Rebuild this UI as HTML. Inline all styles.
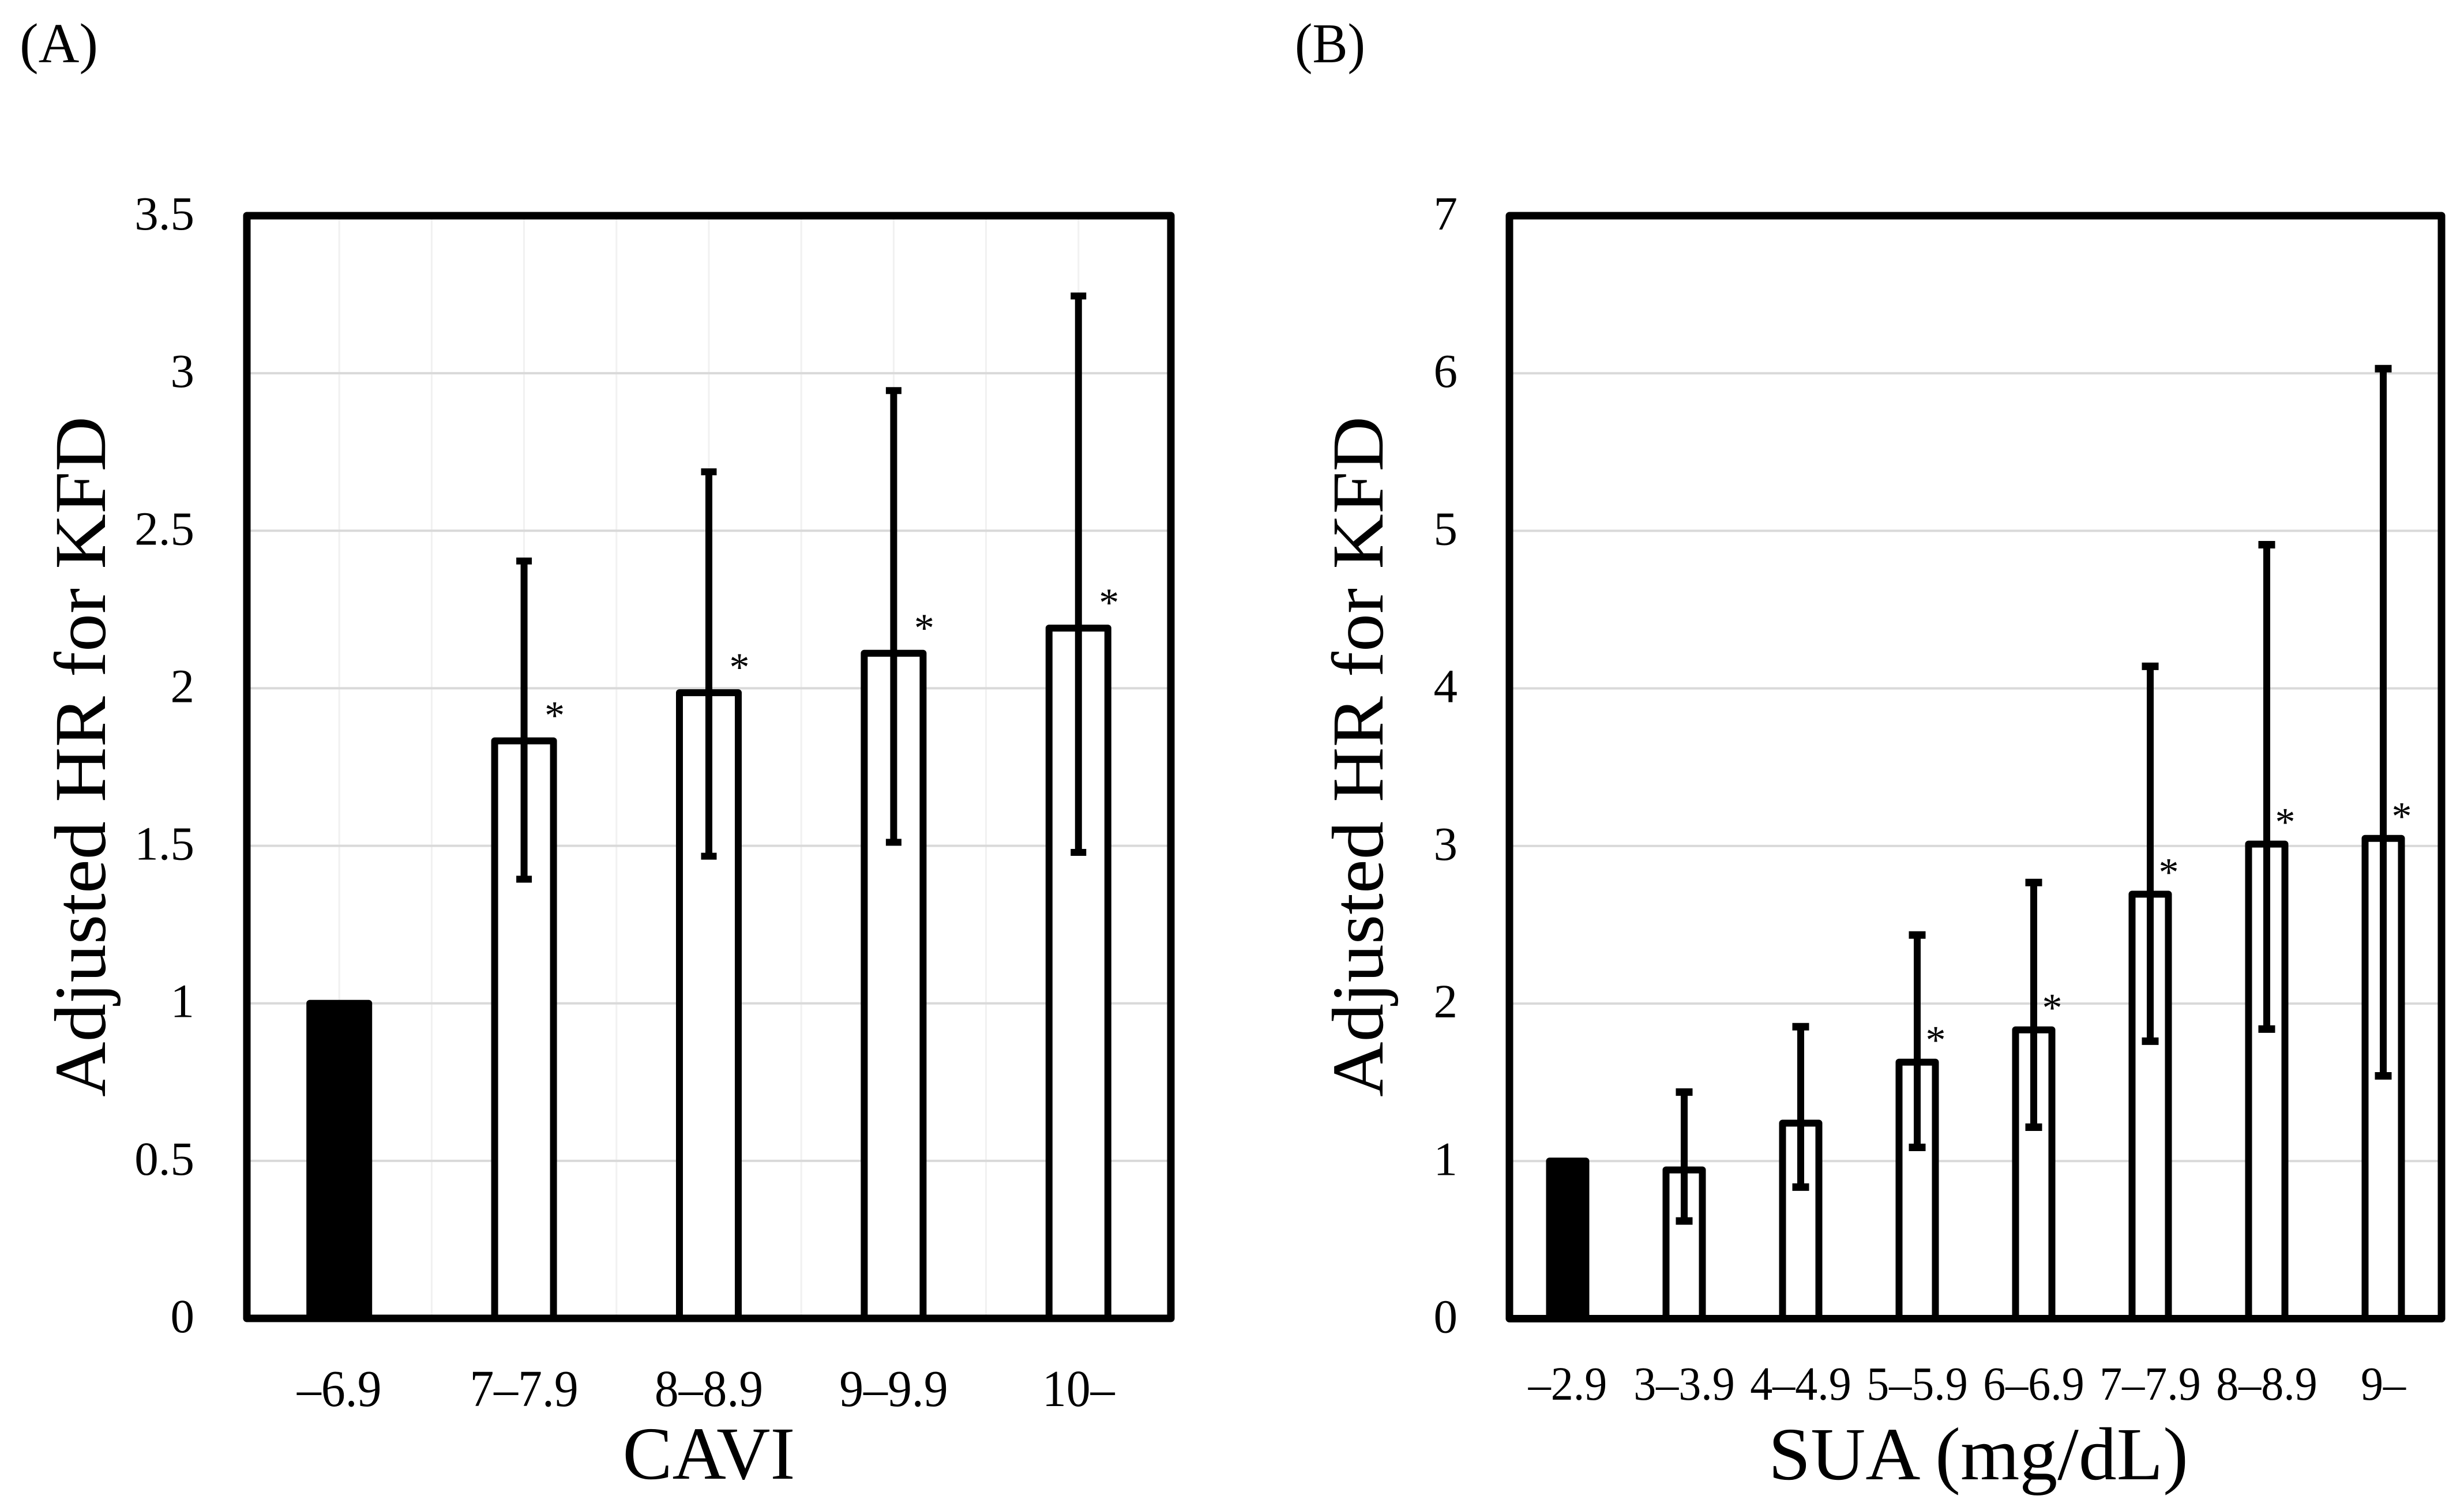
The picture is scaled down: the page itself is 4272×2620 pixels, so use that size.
<!DOCTYPE html>
<html lang="en">
<head>
<meta charset="utf-8">
<title>Adjusted HR for KFD by CAVI and SUA</title>
<style>
  html, body { margin: 0; padding: 0; background: #ffffff; }
  svg { display: block; }
  text { font-family: "Liberation Serif", serif; fill: #000000; }
</style>
</head>
<body>
<svg id="figure" xmlns="http://www.w3.org/2000/svg" width="4272" height="2620" viewBox="0 0 4272 2620">
  <rect x="0" y="0" width="4272" height="2620" fill="#ffffff"></rect>
  <text x="34" y="108" font-size="98">(A)</text>
  <text x="2245" y="108" font-size="98" textLength="122" lengthAdjust="spacingAndGlyphs">(B)</text>
  <text transform="translate(182,1312) rotate(-90)" text-anchor="middle" font-size="127" textLength="1180" lengthAdjust="spacingAndGlyphs">Adjusted HR for KFD</text>
  <text transform="translate(2397,1312) rotate(-90)" text-anchor="middle" font-size="127" textLength="1180" lengthAdjust="spacingAndGlyphs">Adjusted HR for KFD</text>
  <text x="1229" y="2564" text-anchor="middle" font-size="130" textLength="299" lengthAdjust="spacingAndGlyphs">CAVI</text>
  <text x="3430" y="2565" text-anchor="middle" font-size="130" textLength="728" lengthAdjust="spacingAndGlyphs">SUA (mg/dL)</text>
  <g id="panel-a"></g>
  <g id="panel-b"></g>
</svg>
<script>
// Panel A data
const categoriesA = ['–6.9', '7–7.9', '8–8.9', '9–9.9', '10–'];
const hazardA = [1, 1.833, 1.986, 2.111, 2.191];
const upperA = [null, 2.404, 2.687, 2.945, 3.245];
const lowerA = [null, 1.394, 1.467, 1.511, 1.479];
const significantA = [false, true, true, true, true];
const yTickLabelsA = ['0', '0.5', '1', '1.5', '2', '2.5', '3', '3.5'];

// Panel B data
const categoriesB = ['–2.9', '3–3.9', '4–4.9', '5–5.9', '6–6.9', '7–7.9', '8–8.9', '9–'];
const hazardB = [1, 0.944, 1.241, 1.628, 1.833, 2.694, 3.012, 3.048];
const upperB = [null, 1.438, 1.853, 2.435, 2.768, 4.14, 4.912, 6.029];
const lowerB = [null, 0.62, 0.835, 1.087, 1.215, 1.761, 1.838, 1.541];
const significantB = [false, false, false, true, true, true, true, true];
const yTickLabelsB = ['0', '1', '2', '3', '4', '5', '6', '7'];

const SVG_NS = 'http://www.w3.org/2000/svg';

function make(tag, attrs, parent) {
  const node = document.createElementNS(SVG_NS, tag);
  Object.keys(attrs).forEach(function (k) { node.setAttribute(k, attrs[k]); });
  parent.appendChild(node);
  return node;
}

function drawPanel(root, key, categories, hazard, upper, lower, significant, yTickLabels, layout) {
  const yMax = parseFloat(yTickLabels[yTickLabels.length - 1]);
  const xBand = (layout.right - layout.left) / categories.length;
  const xScale = function (i) { return layout.left + xBand * (i + 0.5); };
  const yScale = function (v) { return layout.bottom - (layout.bottom - layout.top) * v / yMax; };

  if (layout.verticalGrid) {
    for (let i = 1; i < categories.length * 2; i++) {
      const gx = layout.left + xBand * i / 2;
      const vLine = make('line', { x1: gx, x2: gx, y1: layout.top, y2: layout.bottom, stroke: '#f1f1f1', 'stroke-width': 3 }, root);
      
      
    }
  }

  yTickLabels.forEach(function (label) {
    const v = parseFloat(label);
    const gy = yScale(v);
    if (v > 0 && v < yMax) {
      const hLine = make('line', { x1: layout.left, x2: layout.right, y1: gy, y2: gy, stroke: '#d9d9d9', 'stroke-width': 4 }, root);
      
      
    }
    const tick = make('text', { x: layout.tickRight, y: gy + 24, 'text-anchor': 'end', 'font-size': 83 }, root);
    tick.textContent = label;
    
    
  });

  categories.forEach(function (label, i) {
    const cx = xScale(i);
    const topY = yScale(hazard[i]);
    const isReference = upper[i] === null;
    const bar = make('rect', {
      x: cx - layout.barWidth / 2,
      y: topY,
      width: layout.barWidth,
      height: layout.bottom - topY,
      fill: isReference ? '#000000' : '#ffffff',
      stroke: '#000000',
      'stroke-width': layout.barStroke,
      'stroke-linejoin': 'round'
    }, root);
    
    

    if (!isReference) {
      const hi = yScale(upper[i]);
      const lo = yScale(lower[i]);
      const stem = make('line', { x1: cx, x2: cx, y1: hi, y2: lo, stroke: '#000000', 'stroke-width': layout.stem }, root);
      
      
      const capTop = make('line', { x1: cx - layout.cap / 2, x2: cx + layout.cap / 2, y1: hi, y2: hi, stroke: '#000000', 'stroke-width': layout.capThick }, root);
      
      
      const capBottom = make('line', { x1: cx - layout.cap / 2, x2: cx + layout.cap / 2, y1: lo, y2: lo, stroke: '#000000', 'stroke-width': layout.capThick }, root);
      
      
    }

    if (significant[i]) {
      const star = make('text', { x: cx + layout.starDx, y: topY - layout.starDy + 33, 'text-anchor': 'middle', 'font-size': 70 }, root);
      star.textContent = '*';
      
      
    }

    const xLabel = make('text', {
      transform: 'translate(' + cx + ',' + layout.xLabelY + ') scale(' + layout.xLabelSqueeze + ',1)',
      'text-anchor': 'middle',
      'font-size': layout.xLabelSize
    }, root);
    xLabel.textContent = label;
    
    
  });

  const frame = make('rect', {
    x: layout.left,
    y: layout.top,
    width: layout.right - layout.left,
    height: layout.bottom - layout.top,
    fill: 'none',
    stroke: '#000000',
    'stroke-width': 13,
    'stroke-linejoin': 'round'
  }, root);
  
  
}

drawPanel(document.getElementById('panel-a'), 'a', categoriesA, hazardA, upperA, lowerA, significantA, yTickLabelsA, {
  left: 428, right: 2030, top: 374, bottom: 2286, tickRight: 337, verticalGrid: true,
  barWidth: 102, barStroke: 12, stem: 12, cap: 27, capThick: 12, starDx: 53, starDy: 54,
  xLabelY: 2438, xLabelSize: 90, xLabelSqueeze: 0.93
});

drawPanel(document.getElementById('panel-b'), 'b', categoriesB, hazardB, upperB, lowerB, significantB, yTickLabelsB, {
  left: 2617, right: 4233, top: 374, bottom: 2286.5, tickRight: 2527, verticalGrid: false,
  barWidth: 63, barStroke: 12, stem: 12, cap: 29, capThick: 13, starDx: 32, starDy: 48,
  xLabelY: 2427, xLabelSize: 83, xLabelSqueeze: 0.94
});
</script>
</body>
</html>
